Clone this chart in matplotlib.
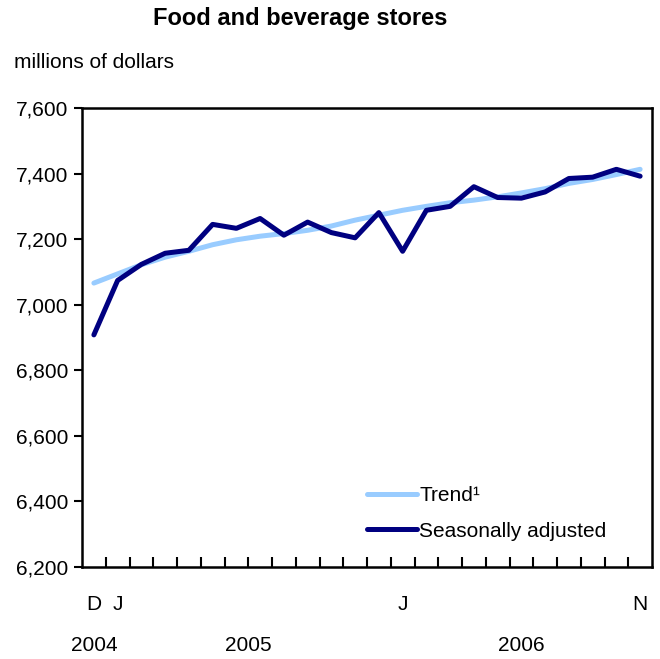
import matplotlib
matplotlib.use("Agg")
import matplotlib.pyplot as plt
import matplotlib.transforms as mtransforms
import numpy as np

plt.rcParams['font.family'] = ['Liberation Sans', 'DejaVu Sans']

# Dec 2004 .. Nov 2006, monthly
months = ['D', 'J', 'F', 'M', 'A', 'M', 'J', 'J', 'A', 'S', 'O', 'N',
          'D', 'J', 'F', 'M', 'A', 'M', 'J', 'J', 'A', 'S', 'O', 'N']
seasonally_adjusted = [6908, 7074, 7123, 7157, 7166, 7245, 7233, 7263, 7212, 7252, 7220, 7204,
                       7281, 7163, 7288, 7300, 7360, 7327, 7325, 7344, 7385, 7389, 7413, 7392]
trend = [7066, 7094, 7122, 7145, 7163, 7183, 7198, 7209, 7217, 7227, 7240, 7258,
         7273, 7288, 7300, 7311, 7319, 7329, 7341, 7354, 7370, 7382, 7397, 7413]
shown_months = [0, 1, 13, 23]
years = ['2004', '2005', '2006']
year_pos = [0, 6.5, 18]
yticks = [6200, 6400, 6600, 6800, 7000, 7200, 7400, 7600]

fig = plt.figure(figsize=(6.6, 6.59), dpi=100)
ax = fig.add_axes([82/660, 92/659, 570/660, 459/659])

x = np.arange(len(months))
ax.plot(x, trend, color='#99ccff', lw=3.6, solid_capstyle='round', label='Trend\u00b9')
ax.plot(x, seasonally_adjusted, color='#000080', lw=3.6, solid_capstyle='round',
        label='Seasonally adjusted')

ax.set_xlim(-0.5, len(months) - 0.5)
ax.set_ylim(6200, 7600)
ax.set_yticks(yticks)
ax.set_yticklabels([f'{v:,}' for v in yticks])
ax.tick_params(axis='y', direction='out', length=6, width=1.5, labelsize=15, pad=4)

ax.set_xticks(shown_months)
ax.set_xticklabels([months[i] for i in shown_months])
ax.tick_params(axis='x', which='major', length=0, labelsize=15, pad=20)
ax.set_xticks(np.arange(0.5, len(months) - 1, 1), minor=True)
ax.tick_params(axis='x', which='minor', direction='in', length=7, width=1.5)

for s in ax.spines.values():
    s.set_linewidth(1.8)

trans = mtransforms.blended_transform_factory(ax.transData, ax.transAxes)
for yr, p in zip(years, year_pos):
    ax.text(p, -0.17, yr, transform=trans, ha='center', va='center', fontsize=15)

leg = ax.legend(loc='lower left', bbox_to_anchor=(0.481, 0.035), frameon=False,
                borderpad=0, fontsize=15, handlelength=2.4, handletextpad=0.12,
                labelspacing=0.8)

fig.text(153/660, 1 - 18/659, 'Food and beverage stores', ha='left', va='center',
         fontsize=17, fontweight='bold')
fig.text(14/660, 1 - 62/659, 'millions of dollars', ha='left', va='center', fontsize=15)

fig.savefig('out.png', dpi=100)
